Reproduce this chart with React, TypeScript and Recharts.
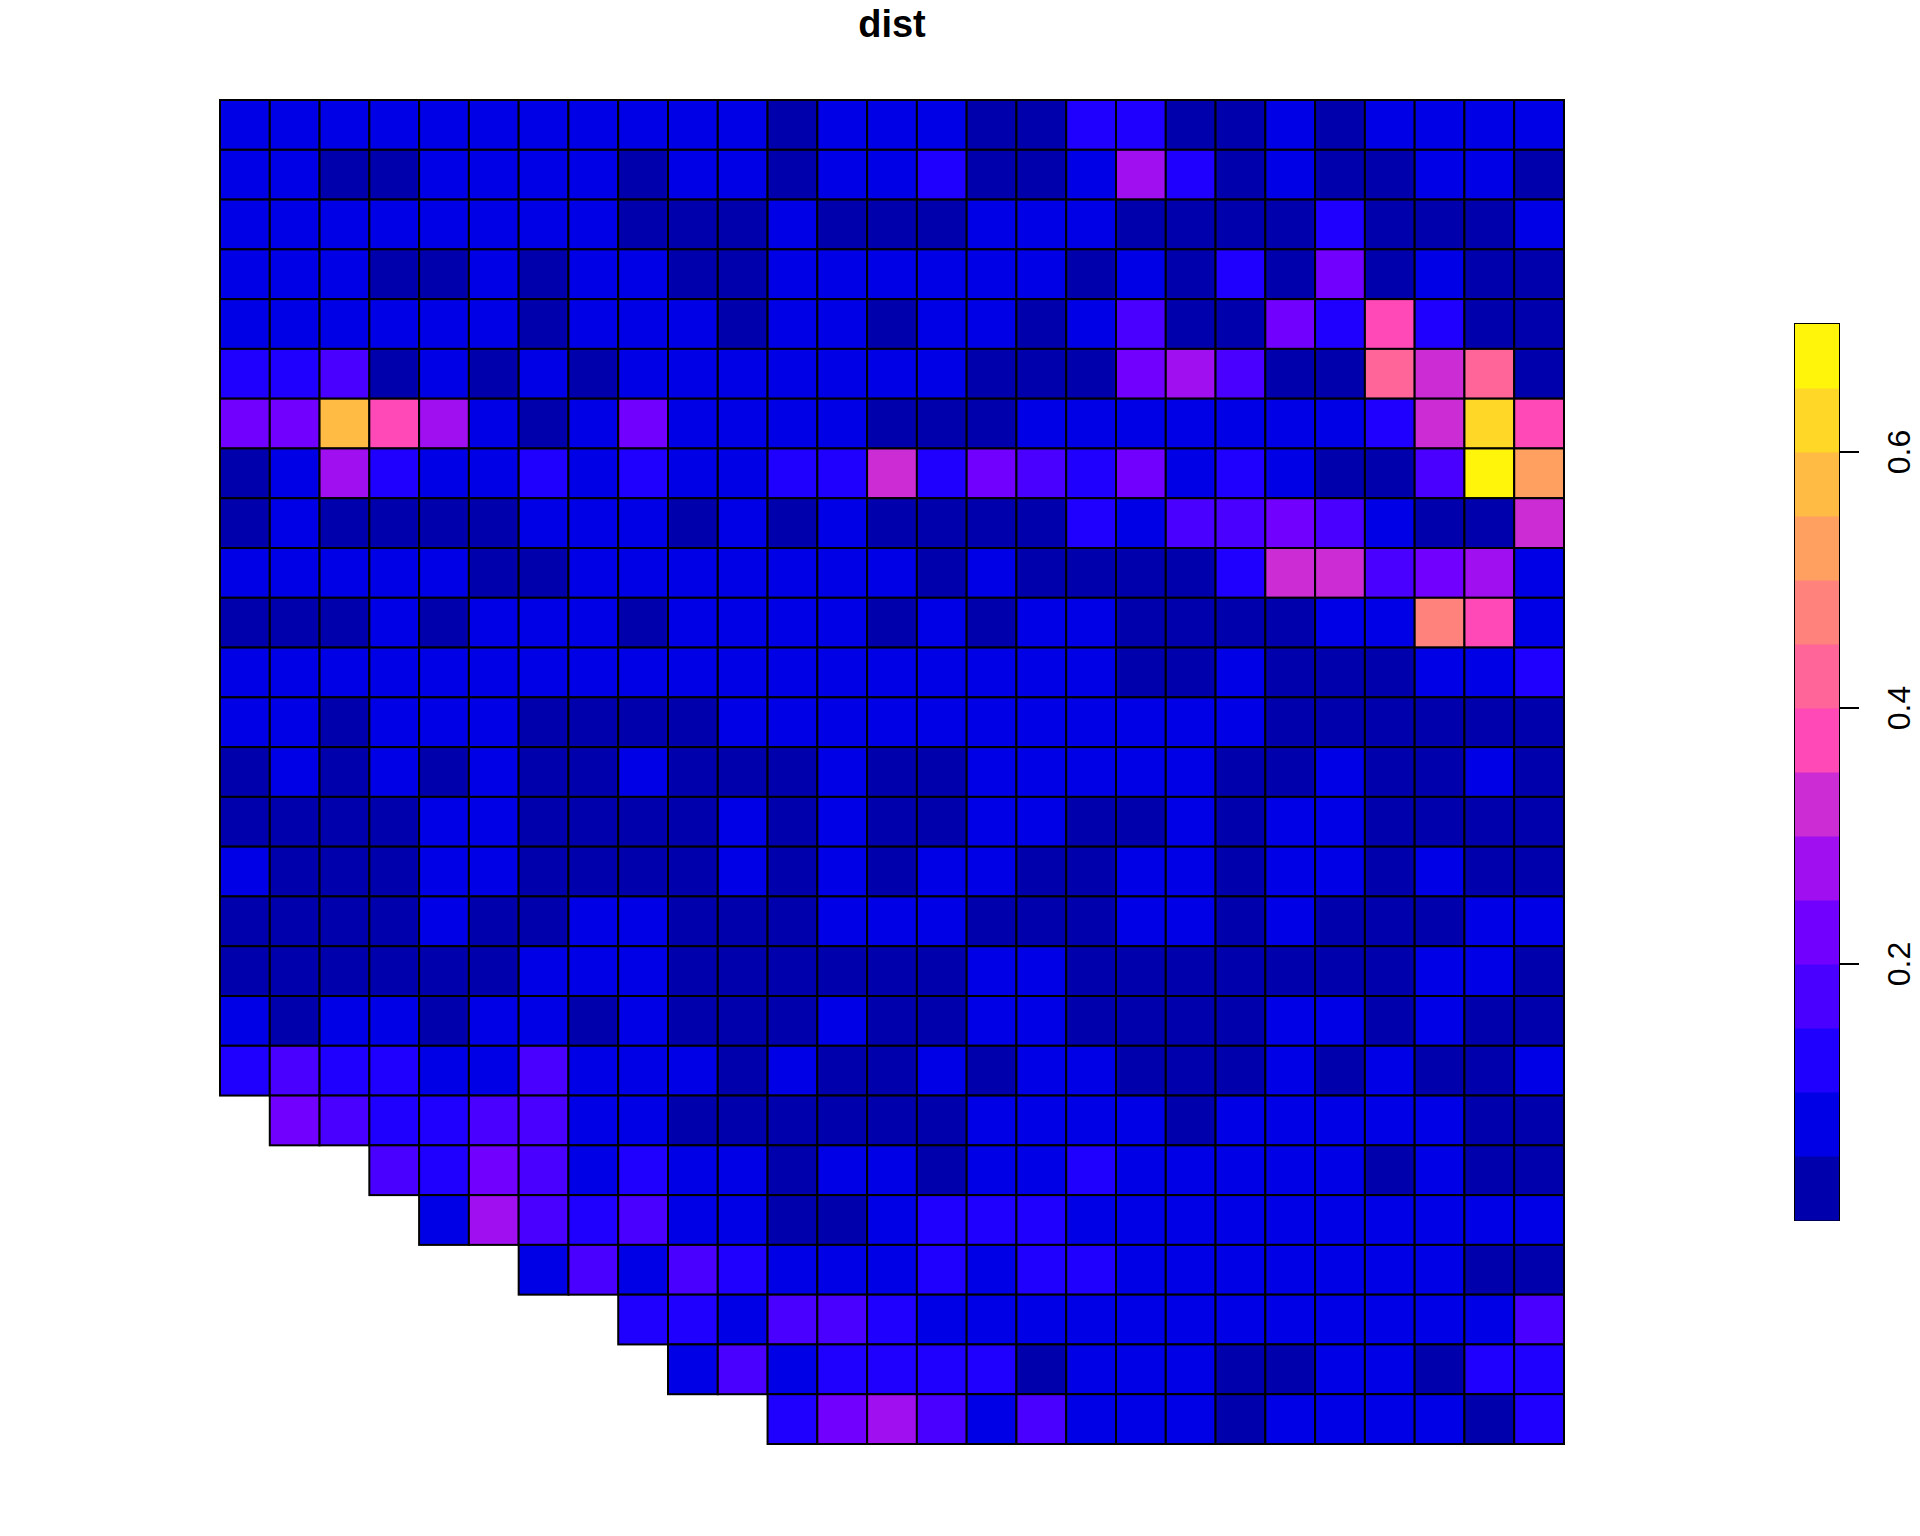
import { ReferenceArea, ReferenceLine, Scatter, ScatterChart, XAxis, YAxis } from "recharts";

// dist per grid cell, top row first, null = no data
const row00 = [0.08, 0.08, 0.08, 0.08, 0.08, 0.08, 0.08, 0.08, 0.08, 0.08, 0.08, 0.03, 0.08, 0.08, 0.08, 0.03, 0.03, 0.13, 0.13, 0.03, 0.03, 0.08, 0.03, 0.08, 0.08, 0.08, 0.08];
const row01 = [0.08, 0.08, 0.03, 0.03, 0.08, 0.08, 0.08, 0.08, 0.03, 0.08, 0.08, 0.03, 0.08, 0.08, 0.13, 0.03, 0.03, 0.08, 0.28, 0.13, 0.03, 0.08, 0.03, 0.03, 0.08, 0.08, 0.03];
const row02 = [0.08, 0.08, 0.08, 0.08, 0.08, 0.08, 0.08, 0.08, 0.03, 0.03, 0.03, 0.08, 0.03, 0.03, 0.03, 0.08, 0.08, 0.08, 0.03, 0.03, 0.03, 0.03, 0.13, 0.03, 0.03, 0.03, 0.08];
const row03 = [0.08, 0.08, 0.08, 0.03, 0.03, 0.08, 0.03, 0.08, 0.08, 0.03, 0.03, 0.08, 0.08, 0.08, 0.08, 0.08, 0.08, 0.03, 0.08, 0.03, 0.13, 0.03, 0.23, 0.03, 0.08, 0.03, 0.03];
const row04 = [0.08, 0.08, 0.08, 0.08, 0.08, 0.08, 0.03, 0.08, 0.08, 0.08, 0.03, 0.08, 0.08, 0.03, 0.08, 0.08, 0.03, 0.08, 0.18, 0.03, 0.03, 0.23, 0.13, 0.38, 0.13, 0.03, 0.03];
const row05 = [0.13, 0.13, 0.18, 0.03, 0.08, 0.03, 0.08, 0.03, 0.08, 0.08, 0.08, 0.08, 0.08, 0.08, 0.08, 0.03, 0.03, 0.03, 0.23, 0.28, 0.18, 0.03, 0.03, 0.43, 0.33, 0.43, 0.03];
const row06 = [0.23, 0.23, 0.58, 0.38, 0.28, 0.08, 0.03, 0.08, 0.23, 0.08, 0.08, 0.08, 0.08, 0.03, 0.03, 0.03, 0.08, 0.08, 0.08, 0.08, 0.08, 0.08, 0.08, 0.13, 0.33, 0.63, 0.38];
const row07 = [0.03, 0.08, 0.28, 0.13, 0.08, 0.08, 0.13, 0.08, 0.13, 0.08, 0.08, 0.13, 0.13, 0.33, 0.13, 0.23, 0.18, 0.13, 0.23, 0.08, 0.13, 0.08, 0.03, 0.03, 0.18, 0.68, 0.53];
const row08 = [0.03, 0.08, 0.03, 0.03, 0.03, 0.03, 0.08, 0.08, 0.08, 0.03, 0.08, 0.03, 0.08, 0.03, 0.03, 0.03, 0.03, 0.13, 0.08, 0.18, 0.18, 0.23, 0.18, 0.08, 0.03, 0.03, 0.33];
const row09 = [0.08, 0.08, 0.08, 0.08, 0.08, 0.03, 0.03, 0.08, 0.08, 0.08, 0.08, 0.08, 0.08, 0.08, 0.03, 0.08, 0.03, 0.03, 0.03, 0.03, 0.13, 0.33, 0.33, 0.18, 0.23, 0.28, 0.08];
const row10 = [0.03, 0.03, 0.03, 0.08, 0.03, 0.08, 0.08, 0.08, 0.03, 0.08, 0.08, 0.08, 0.08, 0.03, 0.08, 0.03, 0.08, 0.08, 0.03, 0.03, 0.03, 0.03, 0.08, 0.08, 0.48, 0.38, 0.08];
const row11 = [0.08, 0.08, 0.08, 0.08, 0.08, 0.08, 0.08, 0.08, 0.08, 0.08, 0.08, 0.08, 0.08, 0.08, 0.08, 0.08, 0.08, 0.08, 0.03, 0.03, 0.08, 0.03, 0.03, 0.03, 0.08, 0.08, 0.13];
const row12 = [0.08, 0.08, 0.03, 0.08, 0.08, 0.08, 0.03, 0.03, 0.03, 0.03, 0.08, 0.08, 0.08, 0.08, 0.08, 0.08, 0.08, 0.08, 0.08, 0.08, 0.08, 0.03, 0.03, 0.03, 0.03, 0.03, 0.03];
const row13 = [0.03, 0.08, 0.03, 0.08, 0.03, 0.08, 0.03, 0.03, 0.08, 0.03, 0.03, 0.03, 0.08, 0.03, 0.03, 0.08, 0.08, 0.08, 0.08, 0.08, 0.03, 0.03, 0.08, 0.03, 0.03, 0.08, 0.03];
const row14 = [0.03, 0.03, 0.03, 0.03, 0.08, 0.08, 0.03, 0.03, 0.03, 0.03, 0.08, 0.03, 0.08, 0.03, 0.03, 0.08, 0.08, 0.03, 0.03, 0.08, 0.03, 0.08, 0.08, 0.03, 0.03, 0.03, 0.03];
const row15 = [0.08, 0.03, 0.03, 0.03, 0.08, 0.08, 0.03, 0.03, 0.03, 0.03, 0.08, 0.03, 0.08, 0.03, 0.08, 0.08, 0.03, 0.03, 0.08, 0.08, 0.03, 0.08, 0.08, 0.03, 0.08, 0.03, 0.03];
const row16 = [0.03, 0.03, 0.03, 0.03, 0.08, 0.03, 0.03, 0.08, 0.08, 0.03, 0.03, 0.03, 0.08, 0.08, 0.08, 0.03, 0.03, 0.03, 0.08, 0.08, 0.03, 0.08, 0.03, 0.03, 0.03, 0.08, 0.08];
const row17 = [0.03, 0.03, 0.03, 0.03, 0.03, 0.03, 0.08, 0.08, 0.08, 0.03, 0.03, 0.03, 0.03, 0.03, 0.03, 0.08, 0.08, 0.03, 0.03, 0.03, 0.03, 0.03, 0.03, 0.03, 0.08, 0.08, 0.03];
const row18 = [0.08, 0.03, 0.08, 0.08, 0.03, 0.08, 0.08, 0.03, 0.08, 0.03, 0.03, 0.03, 0.08, 0.03, 0.03, 0.08, 0.08, 0.03, 0.03, 0.03, 0.03, 0.08, 0.08, 0.03, 0.08, 0.03, 0.03];
const row19 = [0.13, 0.18, 0.13, 0.13, 0.08, 0.08, 0.18, 0.08, 0.08, 0.08, 0.03, 0.08, 0.03, 0.03, 0.08, 0.03, 0.08, 0.08, 0.03, 0.03, 0.03, 0.08, 0.03, 0.08, 0.03, 0.03, 0.08];
const row20 = [null, 0.23, 0.18, 0.13, 0.13, 0.18, 0.18, 0.08, 0.08, 0.03, 0.03, 0.03, 0.03, 0.03, 0.03, 0.08, 0.08, 0.08, 0.08, 0.03, 0.08, 0.08, 0.08, 0.08, 0.08, 0.03, 0.03];
const row21 = [null, null, null, 0.18, 0.13, 0.23, 0.18, 0.08, 0.13, 0.08, 0.08, 0.03, 0.08, 0.08, 0.03, 0.08, 0.08, 0.13, 0.08, 0.08, 0.08, 0.08, 0.08, 0.03, 0.08, 0.03, 0.03];
const row22 = [null, null, null, null, 0.08, 0.28, 0.18, 0.13, 0.18, 0.08, 0.08, 0.03, 0.03, 0.08, 0.13, 0.13, 0.13, 0.08, 0.08, 0.08, 0.08, 0.08, 0.08, 0.08, 0.08, 0.08, 0.08];
const row23 = [null, null, null, null, null, null, 0.08, 0.18, 0.08, 0.18, 0.13, 0.08, 0.08, 0.08, 0.13, 0.08, 0.13, 0.13, 0.08, 0.08, 0.08, 0.08, 0.08, 0.08, 0.08, 0.03, 0.03];
const row24 = [null, null, null, null, null, null, null, null, 0.13, 0.13, 0.08, 0.18, 0.18, 0.13, 0.08, 0.08, 0.08, 0.08, 0.08, 0.08, 0.08, 0.08, 0.08, 0.08, 0.08, 0.08, 0.18];
const row25 = [null, null, null, null, null, null, null, null, null, 0.08, 0.18, 0.08, 0.13, 0.13, 0.13, 0.13, 0.03, 0.08, 0.08, 0.08, 0.03, 0.03, 0.08, 0.08, 0.03, 0.13, 0.13];
const row26 = [null, null, null, null, null, null, null, null, null, null, null, 0.13, 0.23, 0.28, 0.18, 0.08, 0.18, 0.08, 0.08, 0.08, 0.03, 0.08, 0.08, 0.08, 0.08, 0.03, 0.13];

const rows = [
  row00, row01, row02, row03, row04, row05, row06, row07, row08,
  row09, row10, row11, row12, row13, row14, row15, row16, row17,
  row18, row19, row20, row21, row22, row23, row24, row25, row26,
];

const palette = [
  "#0000AC", "#0000E6", "#1F00FF", "#4A00FF", "#7200FF", "#9F0FF0", "#CC2CD3",
  "#FF49B6", "#FF6599", "#FF827D", "#FF9F60", "#FFBB44", "#FFD827", "#FFF50A",
];
const binWidth = 0.05;
const barTicks = [0.2, 0.4, 0.6];

const WIDTH = 1920;
const HEIGHT = 1536;
const FONT = '"Liberation Sans", Arial, sans-serif';

const plot = { left: 220, right: 1564, top: 100, bottom: 1444 };
const bar = { left: 1795, right: 1839, top: 324, bottom: 1220 };
const cellSize = (plot.right - plot.left) / rows.length;

const cells = rows.flatMap((values, r) =>
  values.flatMap((value, c) => (value === null ? [] : [{ x: c + 0.5, y: r + 0.5, value }]))
);
const barCells = palette.map((color, i) => ({ x: 0.5, y: (i + 0.5) * binWidth, color }));

const fillFor = (value: number) => palette[Math.floor(value / binWidth)];

const GridCell = ({ cx, cy, payload }: any) => (
  <rect
    x={cx - cellSize / 2}
    y={cy - cellSize / 2}
    width={cellSize}
    height={cellSize}
    fill={fillFor(payload.value)}
    stroke="#000"
    strokeWidth={2}
  />
);

const BarCell = ({ cx, cy, payload }: any) => {
  const h = ((bar.bottom - bar.top) / palette.length);
  const w = bar.right - bar.left;
  return <rect x={cx - w / 2} y={cy - h / 2} width={w} height={h + 0.5} fill={payload.color} />;
};

const RotatedTick = ({ x, y, payload }: any) => (
  <text
    transform={`rotate(-90 ${x + 51} ${y})`}
    x={x + 51}
    y={y}
    textAnchor="middle"
    fontFamily={FONT}
    fontSize={32}
    fill="#000"
  >
    {payload.value}
  </text>
);

export default function App() {
  return (
    <div style={{ position: "absolute", left: 0, top: 0, width: WIDTH, height: HEIGHT, background: "#fff" }}>
      <div style={{ position: "absolute", left: 0, top: 0 }}>
        <ScatterChart
          width={WIDTH}
          height={HEIGHT}
          margin={{
            top: plot.top,
            left: plot.left,
            right: WIDTH - plot.right,
            bottom: HEIGHT - plot.bottom,
          }}
        >
          <XAxis type="number" dataKey="x" domain={[0, rows.length]} hide />
          <YAxis type="number" dataKey="y" domain={[0, rows.length]} reversed hide />
          <Scatter data={cells} shape={<GridCell />} isAnimationActive={false} />
          <text
            x={(plot.left + plot.right) / 2}
            y={37}
            textAnchor="middle"
            fontFamily={FONT}
            fontWeight="bold"
            fontSize={38}
            fill="#000"
          >
            dist
          </text>
        </ScatterChart>
      </div>
      <div style={{ position: "absolute", left: 0, top: 0 }}>
        <ScatterChart
          width={WIDTH}
          height={HEIGHT}
          margin={{
            top: bar.top,
            left: bar.left,
            right: WIDTH - bar.right - 60,
            bottom: HEIGHT - bar.bottom,
          }}
        >
          <XAxis type="number" dataKey="x" domain={[0, 1]} hide />
          <YAxis
            type="number"
            dataKey="y"
            orientation="right"
            domain={[0, palette.length * binWidth]}
            ticks={barTicks}
            width={60}
            axisLine={false}
            tickLine={{ stroke: "#000", strokeWidth: 2 }}
            tickSize={20}
            tickMargin={0}
            tick={<RotatedTick />}
            allowDecimals
          />
          <Scatter data={barCells} shape={<BarCell />} isAnimationActive={false} />
          <ReferenceArea x1={0} x2={1} y1={0} y2={palette.length * binWidth} fill="none" stroke="#000" strokeWidth={2} />
          <ReferenceLine
            segment={[{ x: 1, y: barTicks[0] }, { x: 1, y: barTicks[2] }]}
            stroke="#000"
            strokeWidth={2}
          />
        </ScatterChart>
      </div>
    </div>
  );
}
